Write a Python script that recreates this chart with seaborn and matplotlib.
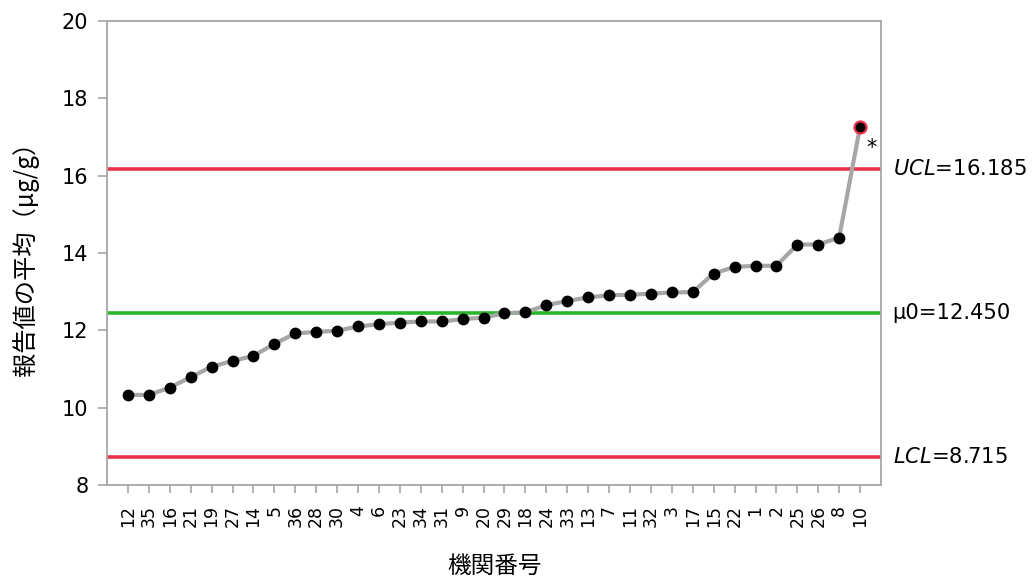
import matplotlib
matplotlib.use("Agg")
import matplotlib.pyplot as plt
import seaborn as sns
import numpy as np
import pandas as pd

# Laboratory IDs (sorted by reported mean) and their mean values (µg/g)
labs = ["12", "35", "16", "21", "19", "27", "14", "5", "36", "28", "30", "4",
        "6", "23", "34", "31", "9", "20", "29", "18", "24", "33", "13", "7",
        "11", "32", "3", "17", "15", "22", "1", "2", "25", "26", "8", "10"]
means = [10.33, 10.33, 10.52, 10.79, 11.06, 11.21, 11.34, 11.65, 11.92, 11.96,
         11.99, 12.10, 12.16, 12.20, 12.23, 12.23, 12.29, 12.33, 12.44, 12.47,
         12.65, 12.76, 12.85, 12.91, 12.92, 12.95, 12.98, 12.99, 13.47, 13.64,
         13.67, 13.67, 14.22, 14.22, 14.40, 17.27]

# Control limits
ucl = 16.185
mu0 = 12.450
lcl = 8.715

sns.set_theme(style="white")
plt.rcParams["font.family"] = ["DejaVu Sans", "Noto Sans CJK JP"]
plt.rcParams["text.color"] = "black"
plt.rcParams["xtick.color"] = "black"
plt.rcParams["ytick.color"] = "black"
plt.rcParams["axes.labelcolor"] = "black"

RED = "#E8334A"
GREEN = "#2BB52B"
GRAY = "#A6A6A6"

df = pd.DataFrame({"pos": np.arange(len(labs)), "lab": labs, "mean": means})

fig = plt.figure(figsize=(10.32, 5.84), dpi=100)
ax = fig.add_axes([0.1037, 0.1695, 0.75, 0.7945])

# Control limit lines
ax.axhline(ucl, color=RED, lw=2.6, zorder=1)
ax.axhline(mu0, color=GREEN, lw=2.6, zorder=1)
ax.axhline(lcl, color=RED, lw=2.6, zorder=1)

# Sorted means connected by a gray line
sns.lineplot(data=df, x="pos", y="mean", ax=ax, color=GRAY, lw=3,
             marker="o", markersize=8.5, markerfacecolor="black",
             markeredgecolor="black", markeredgewidth=0, zorder=3)

# Out-of-control point highlighted
out = df[df["mean"] > ucl]
ax.scatter(out["pos"], out["mean"], s=75, color="black", edgecolor=RED,
           linewidth=1.6, zorder=4)
for _, r in out.iterrows():
    ax.text(r["pos"] + 0.3, r["mean"] - 0.3, "*", fontsize=15,
            ha="left", va="top", color="black")

ax.set_xlim(-1, len(labs))
ax.set_ylim(8, 20)
ax.set_yticks(np.arange(8, 21, 2))
ax.set_xticks(df["pos"])
ax.set_xticklabels(labs, rotation=90, fontsize=12.5)
ax.tick_params(axis="y", labelsize=15, length=6.5, width=1.2, color=GRAY,
               labelcolor="black", direction="out", left=True, pad=7)
ax.tick_params(axis="x", length=5.5, width=1.2, color=GRAY, labelcolor="black",
               direction="out", bottom=True, pad=9)

for s in ax.spines.values():
    s.set_color(GRAY)
    s.set_linewidth(1.3)

ax.set_xlabel("機関番号", fontsize=17, family=["Noto Sans CJK JP"], labelpad=20)
ax.set_ylabel("報告値の平均（μg/g）", fontsize=17.5,
              family=["Noto Sans CJK JP", "DejaVu Sans"], labelpad=16)

# Limit labels on the right
tx = len(labs) + 0.55
ax.text(tx, ucl, r"$\mathit{UCL}$=16.185", fontsize=15.2, va="center",
        ha="left", clip_on=False)
ax.text(tx, mu0, "μ0=12.450", fontsize=15.2, va="center", ha="left",
        clip_on=False)
ax.text(tx, lcl, r"$\mathit{LCL}$=8.715", fontsize=15.2, va="center",
        ha="left", clip_on=False)

fig.savefig("out.png", dpi=100)
